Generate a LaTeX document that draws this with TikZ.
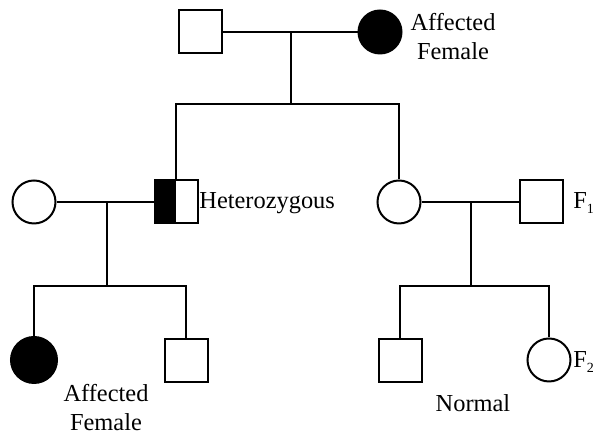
\documentclass[tikz,border=0pt]{standalone}
\usepackage{fontspec}
\setmainfont{Liberation Serif}
\usepackage{tikz}
\usetikzlibrary{positioning,calc}

\newcommand{\gensub}[1]{\raisebox{-0.45ex}{\fontsize{7}{8}\selectfont #1}}

\begin{document}
\begin{tikzpicture}[x=0.5pt, y=-0.5pt,
  every node/.style={font=\fontsize{12.2}{14.5}\selectfont, text=black},
  male/.style={draw=black, fill=white, line width=1pt, rectangle,
               minimum size=21.5pt, inner sep=0pt},
  female/.style={draw=black, fill=white, line width=1pt, circle,
                 minimum size=21.5pt, inner sep=0pt},
  affected/.style={female, fill=black},
  carrier/.style={male, path picture={\fill[black]
      (path picture bounding box.south west) rectangle (path picture bounding box.north);}},
  label/.style={align=center, inner sep=0pt},
  line/.style={draw=black, line width=1pt}]
\useasboundingbox (0,0) rectangle (596,437);
% generation I
\node[male]     (gf)  at (200,32)  {};
\node[affected] (gm)  at (380,32)  {};
\node[label]    (gml) at (453,37)  {Affected\\Female};
% generation II
\node[female]   (wl)  at (34,202)  {};
\node[carrier]  (het) at (176,202) {};
\node[label, anchor=west] (hetl) at (199,203) {Heterozygous};
\node[female]   (dau) at (399,202) {};
\node[male]     (hus) at (541,202) {};
\node[label, anchor=west] (f1) at (573,203) {F\gensub{1}};
% generation III
\node[affected, minimum height=23pt] (aff) at (34,360) {};
\node[male]     (son)  at (186,361) {};
\node[label]    (affl) at (106,408) {Affected\\Female};
\node[male]     (son2) at (400,361) {};
\node[female]   (dau2) at (549,360) {};
\node[label, anchor=west] (f2) at (573,362) {F\gensub{2}};
\node[label]    (norm) at (473,403) {Normal};
% marriage and sibship points
\coordinate (mar1) at (291,32);  \coordinate (sib1) at (291,104);
\coordinate (mar2) at (107,202); \coordinate (sib2) at (107,286);
\coordinate (mar3) at (471,202); \coordinate (sib3) at (471,286);
\draw[line] (gf) -- (gm);
\draw[line] (mar1) -- (sib1);
\draw[line] (het.north) |- (sib1) -| (dau.north);
\draw[line] (wl) -- (het);
\draw[line] (dau) -- (hus);
\draw[line] (mar2) -- (sib2);
\draw[line] (mar3) -- (sib3);
\draw[line] (aff.north) |- (sib2) -| (son.north);
\draw[line] (son2.north) |- (sib3) -| (dau2.north);
\end{tikzpicture}
\end{document}
